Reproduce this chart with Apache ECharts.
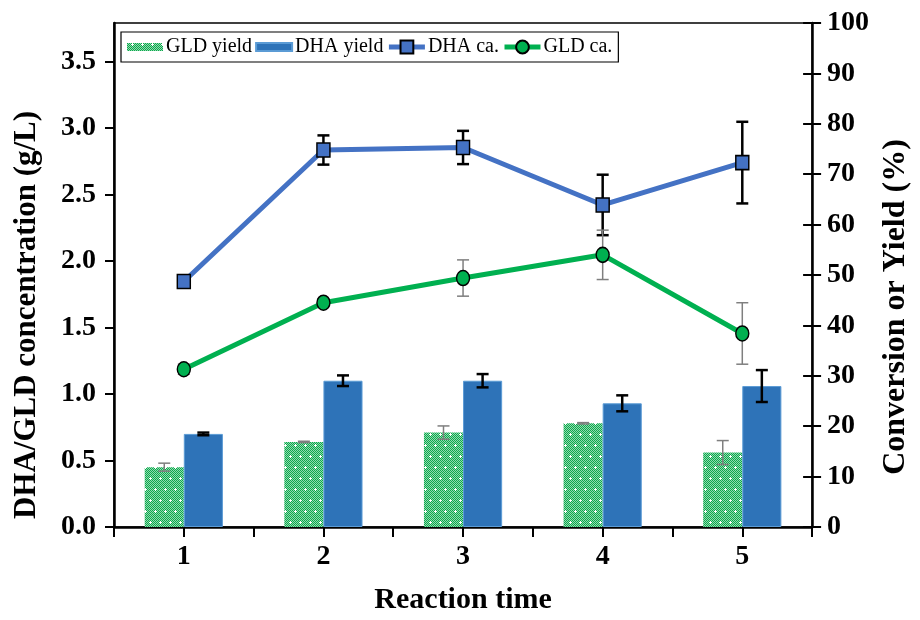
<!DOCTYPE html>
<html>
<head>
<meta charset="utf-8">
<script src="https://cdn.jsdelivr.net/npm/echarts@6/dist/echarts.min.js"></script>
<style>
  html, body { margin: 0; padding: 0; background: #fff; }
  #chart { width: 920px; height: 620px; }
</style>
</head>
<body>
<div id="chart"></div>
<script>
// Reaction time points
const categories = ['1', '2', '3', '4', '5'];

// Yields (g/L) with standard deviations
const gldYield = [0.45, 0.64, 0.71, 0.78, 0.56];
const gldYieldErr = [0.03, 0.005, 0.05, 0.005, 0.09];
const dhaYield = [0.70, 1.10, 1.10, 0.93, 1.06];
const dhaYieldErr = [0.01, 0.04, 0.05, 0.06, 0.12];

// Conversion (%) with standard deviations
const dhaConv = [48.7, 74.8, 75.3, 63.9, 72.3];
const dhaConvErr = [0.5, 2.9, 3.3, 6.0, 8.1];
const gldConv = [31.3, 44.5, 49.4, 54.0, 38.4];
const gldConvErr = [1.0, 0.8, 3.6, 4.9, 6.1];

// Tick labels
const leftTicks = [0, 0.5, 1.0, 1.5, 2.0, 2.5, 3.0, 3.5];
const rightTicks = [0, 10, 20, 30, 40, 50, 60, 70, 80, 90, 100];

const FONT = '"Liberation Serif", "Times New Roman", serif';
const BAR_W = 0.28; // fraction of the category band per bar

// Dotted green fill for the GLD yield bars
function makeDotPattern() {
  const c = document.createElement('canvas');
  c.width = 10; c.height = 22;
  const g = c.getContext('2d');
  for (let y = 0; y < c.height; y++) {
    for (let x = 0; x < c.width; x++) {
      g.fillStyle = (x + y) % 2 === 0 ? '#0FA64C' : '#8EDDB0';
      g.fillRect(x, y, 1, 1);
    }
  }
  g.fillStyle = '#ffffff';
  const plus = (cx, cy) => {
    g.fillRect(cx - 1, cy, 3, 1);
    g.fillRect(cx, cy - 1, 1, 3);
  };
  plus(5, 5);
  plus(0, 16); plus(10, 16);
  return c;
}
const dotPattern = makeDotPattern();

// Error bar renderer: offset is the shift of the bar centre in band widths
function errorBar(offset, color, width, cap) {
  return function (params, api) {
    const x = api.value(0);
    const v = api.value(1);
    const e = api.value(2);
    const hi = api.coord([x, v + e]);
    const lo = api.coord([x, v - e]);
    const band = api.size([1, 0])[0];
    const cx = hi[0] + band * offset;
    const st = { stroke: color, lineWidth: width };
    return {
      type: 'group',
      children: [
        { type: 'line', shape: { x1: cx, y1: hi[1], x2: cx, y2: lo[1] }, style: st },
        { type: 'line', shape: { x1: cx - cap, y1: hi[1], x2: cx + cap, y2: hi[1] }, style: st },
        { type: 'line', shape: { x1: cx - cap, y1: lo[1], x2: cx + cap, y2: lo[1] }, style: st }
      ]
    };
  };
}
const errData = (vals, errs) => vals.map((v, i) => [i, v, errs[i]]);

const chart = echarts.init(document.getElementById('chart'), null, { renderer: 'canvas' });

const axisLabelStyle = { fontFamily: FONT, fontWeight: 'bold', fontSize: 28, color: '#000' };

chart.setOption({
  animation: false,
  backgroundColor: '#fff',
  grid: {
    left: 114, right: 99, top: 23, bottom: 86,
    show: true, borderColor: '#000', borderWidth: 1.5, backgroundColor: 'transparent'
  },
  legend: {
    left: 121, top: 32,
    orient: 'horizontal',
    backgroundColor: '#fff',
    borderColor: '#000', borderWidth: 1.2,
    padding: [5, 6, 5, 6],
    itemWidth: 36, itemHeight: 16, itemGap: 3,
    lineStyle: { width: 'inherit' },
    textStyle: { fontFamily: FONT, fontSize: 20, color: '#000', padding: [0, 0, 0, -2] },
    data: [
      { name: 'GLD yield', icon: 'path://M0,0H36V8H0Z' },
      { name: 'DHA yield', icon: 'path://M0,0H36V8H0Z' },
      { name: 'DHA ca.' },
      { name: 'GLD ca.' }
    ]
  },
  xAxis: [
    {
      type: 'category',
      data: categories,
      position: 'bottom',
      boundaryGap: true,
      name: 'Reaction time',
      nameLocation: 'middle',
      nameGap: 58,
      nameTextStyle: { fontFamily: FONT, fontWeight: 'bold', fontSize: 30, color: '#000' },
      axisLine: { lineStyle: { color: '#000', width: 2.5 } },
      axisTick: { show: false },
      axisLabel: Object.assign({ margin: 16 }, axisLabelStyle),
      splitLine: { show: false }
    },
    {
      // tick marks at band edges and band centres
      type: 'category',
      data: categories.flatMap(c => [c, c]),
      position: 'bottom',
      boundaryGap: true,
      axisLine: { show: false },
      axisTick: { show: true, interval: 0, length: 10, lineStyle: { color: '#000', width: 2 } },
      axisLabel: { show: false },
      splitLine: { show: false }
    }
  ],
  yAxis: [
    {
      type: 'value',
      position: 'left',
      min: 0, max: 3.79,
      name: 'DHA/GLD concentration (g/L)',
      nameLocation: 'middle',
      nameGap: 72,
      nameTextStyle: { fontFamily: FONT, fontWeight: 'bold', fontSize: 31, color: '#000', padding: [0, 80, 0, 0] },
      axisLine: { show: true, lineStyle: { color: '#000', width: 2.5 } },
      axisTick: { show: true, length: 9, customValues: leftTicks, lineStyle: { color: '#000', width: 2 } },
      axisLabel: Object.assign({ margin: 18, customValues: leftTicks, formatter: v => v.toFixed(1) }, axisLabelStyle),
      splitLine: { show: false }
    },
    {
      type: 'value',
      position: 'right',
      min: 0, max: 100, interval: 10,
      name: 'Conversion or Yield (%)',
      nameLocation: 'middle',
      nameGap: 65,
      nameRotate: 90,
      nameTextStyle: { fontFamily: FONT, fontWeight: 'bold', fontSize: 32, color: '#000', padding: [0, 64, 0, 0] },
      axisLine: { show: true, lineStyle: { color: '#000', width: 2.5 } },
      axisTick: { show: true, length: 9, customValues: rightTicks, lineStyle: { color: '#000', width: 2 } },
      axisLabel: Object.assign({ margin: 15, customValues: rightTicks }, axisLabelStyle),
      splitLine: { show: false }
    },
    {
      // inner half of the crossing ticks on the right axis
      type: 'value',
      position: 'right',
      min: 0, max: 100, interval: 10,
      axisLine: { show: false },
      axisTick: { show: true, inside: true, length: 9, lineStyle: { color: '#000', width: 2 } },
      axisLabel: { show: false },
      splitLine: { show: false }
    }
  ],
  series: [
    {
      name: 'GLD yield',
      type: 'bar',
      yAxisIndex: 0,
      data: gldYield,
      barWidth: (BAR_W * 100) + '%',
      barGap: '0%',
      itemStyle: { color: { image: dotPattern, repeat: 'repeat' } },
      z: 2
    },
    {
      name: 'DHA yield',
      type: 'bar',
      yAxisIndex: 0,
      data: dhaYield,
      barWidth: (BAR_W * 100) + '%',
      barGap: '0%',
      itemStyle: { color: '#2E73B8', borderColor: '#5B9BD5', borderWidth: 1 },
      z: 2
    },
    {
      type: 'custom',
      yAxisIndex: 0,
      renderItem: errorBar(-BAR_W / 2, '#7F7F7F', 1.5, 6),
      data: errData(gldYield, gldYieldErr),
      silent: true,
      z: 3
    },
    {
      type: 'custom',
      yAxisIndex: 0,
      renderItem: errorBar(BAR_W / 2, '#000', 2.5, 6),
      data: errData(dhaYield, dhaYieldErr),
      silent: true,
      z: 3
    },
    {
      type: 'custom',
      yAxisIndex: 1,
      renderItem: errorBar(0, '#000', 2.5, 6),
      data: errData(dhaConv, dhaConvErr),
      silent: true,
      z: 4
    },
    {
      type: 'custom',
      yAxisIndex: 1,
      renderItem: errorBar(0, '#7F7F7F', 1.5, 6),
      data: errData(gldConv, gldConvErr),
      silent: true,
      z: 4
    },
    {
      name: 'DHA ca.',
      type: 'line',
      yAxisIndex: 1,
      data: dhaConv,
      symbol: 'rect',
      symbolSize: [13, 14],
      showAllSymbol: true,
      lineStyle: { color: '#4472C4', width: 5 },
      itemStyle: { color: '#4472C4', borderColor: '#000', borderWidth: 1.5 },
      z: 5
    },
    {
      name: 'GLD ca.',
      type: 'line',
      yAxisIndex: 1,
      data: gldConv,
      symbol: 'circle',
      symbolSize: [13, 15],
      showAllSymbol: true,
      lineStyle: { color: '#00B050', width: 5 },
      itemStyle: { color: '#00B050', borderColor: '#000', borderWidth: 1.5 },
      z: 5
    }
  ]
});
</script>
</body>
</html>
